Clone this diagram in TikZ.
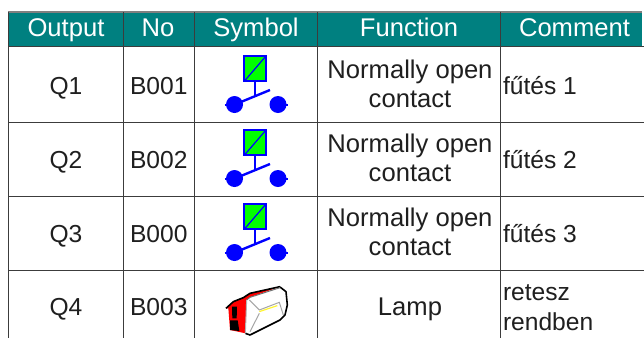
\documentclass[tikz,border=0pt]{standalone}
\usepackage{fontspec}
\setmainfont{Liberation Sans}
\definecolor{teal1}{HTML}{008080}
\definecolor{gridc}{HTML}{3C3C3C}
\definecolor{blue1}{HTML}{0000FF}
\definecolor{green1}{HTML}{00FF00}
\tikzset{
  txt/.style={inner sep=0pt,outer sep=0pt,anchor=base,font=\fontsize{24.6}{29}\selectfont,text=black!88},
  wide/.style={txt,font=\fontsize{25.6}{29}\selectfont},
  hdr/.style={wide,text=white},
  lft/.style={txt,anchor=base west},
  gridline/.style={draw=gridc,line width=0.9pt},
  pics/nocontact/.style={code={
    \draw[blue1,line width=2pt,fill=green1] (244,56) rectangle (266,81);
    \draw[blue1,line width=1.2pt] (244.5,81) -- (266,56);
    \draw[blue1,line width=2pt] (254.5,81) -- (254.5,97);
    \draw[blue1,line width=2.4pt] (236,104) -- (270,90);
    \fill[blue1] (234.5,104.5) circle[radius=8.5pt];
    \fill[blue1] (278,104.5) circle[radius=8.5pt];
    \draw[blue1,line width=2pt] (224.5,104.5) -- (228,104.5) (284,104.5) -- (288,104.5);
  }}
}
\begin{document}
\begin{tikzpicture}[x=1pt,y=-1pt]
\useasboundingbox (0,0) rectangle (644,338);
\fill[white] (0,0) rectangle (644,338);
\fill[teal1] (8,12) rectangle (642,46);
\draw[draw=gray,line width=1.2pt] (8,12) -- (642,12);
\foreach \yy in {46,122,196,270} \draw[gridline] (8,\yy) -- (644,\yy);
\foreach \xx in {8.5,123.5,194.5,317.5,500.5} \draw[gridline] (\xx,12) -- (\xx,338);
% header
\node[hdr] (h1) at (66,36.5) {Output};
\node[hdr] (h2) at (158,36.5) {No};
\node[hdr] (h3) at (256,36.5) {Symbol};
\node[hdr] (h4) at (409,36.5) {Function};
\node[hdr] (h5) at (574.5,36.5) {Comment};
% row 1
\node[txt] (q1) at (66,94) {Q1};
\node[lft] (b1) at (130,94) {B001};
\node[wide] (f1a) at (410,78.5) {Normally open};
\node[wide] (f1b) at (410,107.5) {contact};
\node[lft] (c1) at (503,94) {fűtés 1};
% row 2
\node[txt] (q2) at (66,168) {Q2};
\node[lft] (b2) at (130,168) {B002};
\node[wide] (f2a) at (410,152.5) {Normally open};
\node[wide] (f2b) at (410,181.5) {contact};
\node[lft] (c2) at (503,168) {fűtés 2};
% row 3
\node[txt] (q3) at (66,242) {Q3};
\node[lft] (b3) at (130,242) {B000};
\node[wide] (f3a) at (410,226.5) {Normally open};
\node[wide] (f3b) at (410,255.5) {contact};
\node[lft] (c3) at (503,242) {fűtés 3};
% row 4
\node[txt] (q4) at (66,315) {Q4};
\node[lft] (b4) at (130,315) {B003};
\node[wide] (f4) at (410,315) {Lamp};
\node[lft] (c4a) at (503,300.5) {retesz};
\node[lft] (c4b) at (503,330) {rendben};
% symbols
\pic at (0,0) {nocontact};
\pic at (0,74) {nocontact};
\pic at (0,148) {nocontact};
% lamp
\begin{scope}[shift={(200,265)},x=0.3333pt,y=-0.3333pt]
  \fill[red] (78,130) -- (100,110) -- (130,98) -- (150,85) -- (240,65) -- (150,97) -- (140,105) -- (137,205) -- (90,195) -- (85,130) -- cycle;
  \draw[black,line width=1.6pt,line join=round] (78,130) -- (100,110) -- (130,98) -- (150,85) -- (240,65);
  \fill[white] (140,105) -- (150,97) -- (240,68) -- (258,80) -- (262,120) -- (255,150) -- (240,165) -- (150,208) -- (138,203) -- cycle;
  \draw[black,line width=1.6pt,line join=round] (240,66) -- (258,80) -- (262,120) -- (255,150) -- (240,165) -- (150,210) -- (136,205);
  \draw[black!55,line width=1pt] (140,105) -- (150,97) -- (240,68);
  \draw[black!30,line width=1pt] (140,105) -- (136,205);
  \draw[black!35,line width=1pt] (148,105) -- (178,135) -- (238,112) -- (250,150);
  \draw[black!35,line width=1pt] (178,145) -- (150,200);
  \draw[yellow!80!white,line width=1.2pt] (178,140) -- (232,122);
  \fill[black] (96,125) -- (111,125) -- (110,160) -- (97,160) -- cycle;
  \fill[black] (90,166) -- (113,166) -- (118,198) -- (90,195) -- cycle;
\end{scope}
\end{tikzpicture}
\end{document}
